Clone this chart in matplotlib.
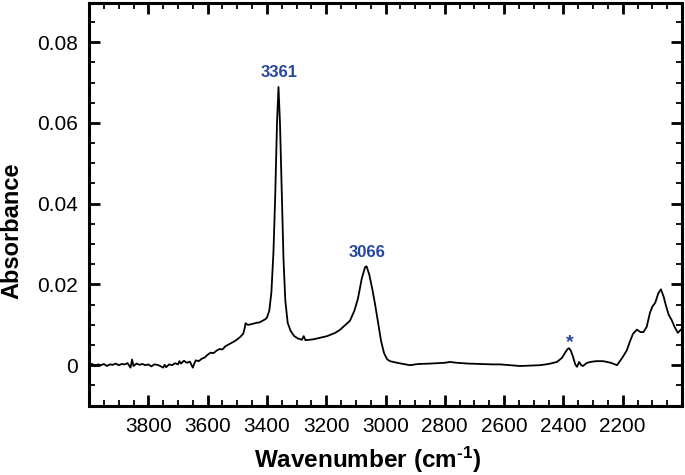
import matplotlib
matplotlib.use('Agg')
from matplotlib import pyplot as plt
from matplotlib.ticker import FixedLocator, MultipleLocator

plt.rcParams['font.family'] = ['Liberation Sans', 'DejaVu Sans']
plt.rcParams['mathtext.fontset'] = 'custom'
plt.rcParams['mathtext.rm'] = 'Liberation Sans:bold'
plt.rcParams['mathtext.default'] = 'rm'

# spectrum (wavenumber in cm-1, absorbance)
wavenumber = [4000, 3990, 3980, 3970, 3960, 3950, 3940, 3930, 3920, 3910,
              3900, 3890, 3880, 3870, 3860, 3855, 3850, 3840, 3830, 3820,
              3810, 3800, 3790, 3780, 3770, 3760, 3750, 3745, 3740, 3730,
              3720, 3710, 3700, 3695, 3690, 3680, 3670, 3660, 3650, 3645,
              3640, 3630, 3620, 3610, 3600, 3590, 3580, 3570, 3560, 3550,
              3540, 3530, 3520, 3510, 3500, 3490, 3480, 3475, 3472, 3465,
              3455, 3445, 3435, 3425, 3415, 3405, 3400, 3392, 3385, 3378,
              3372, 3366, 3361, 3356, 3350, 3344, 3338, 3330, 3320, 3308,
              3295, 3282, 3276, 3270, 3244, 3220, 3197, 3170, 3153, 3135,
              3120, 3105, 3093, 3080, 3069, 3064, 3055, 3045, 3035, 3025,
              3015, 3005, 2995, 2985, 2961, 2940, 2917, 2890, 2850, 2800,
              2782, 2760, 2720, 2680, 2640, 2614, 2580, 2546, 2510, 2479,
              2450, 2422, 2405, 2395, 2386, 2381, 2375, 2368, 2360, 2354,
              2347, 2340, 2334, 2322, 2310, 2290, 2266, 2240, 2219, 2200,
              2186, 2175, 2165, 2152, 2140, 2130, 2119, 2108, 2100, 2090,
              2080, 2071, 2062, 2055, 2045, 2035, 2025, 2014, 2004, 2000]
absorbance = [0.0002, 0.0003, -0.0001, 0.0002, 0.0000, 0.0003, -0.0002, 0.0002, 0.0001, 0.0004,
              0.0000, 0.0003, 0.0002, 0.0005, -0.0006, 0.0014, -0.0002, 0.0004, 0.0001, 0.0003,
              0.0000, 0.0002, -0.0003, 0.0002, 0.0001, -0.0002, -0.0006, 0.0001, -0.0005, 0.0002,
              0.0000, 0.0005, 0.0002, 0.0010, 0.0004, 0.0011, 0.0006, 0.0009, -0.0006, 0.0004,
              0.0012, 0.0010, 0.0016, 0.0019, 0.0026, 0.0031, 0.0030, 0.0036, 0.0040, 0.0039,
              0.0047, 0.0051, 0.0055, 0.0059, 0.0064, 0.0070, 0.0078, 0.0092, 0.0104, 0.0100,
              0.0101, 0.0103, 0.0105, 0.0106, 0.0110, 0.0114, 0.0118, 0.0135, 0.0180, 0.0280,
              0.0420, 0.0600, 0.0689, 0.0600, 0.0430, 0.0260, 0.0160, 0.0105, 0.0085, 0.0072,
              0.0066, 0.0063, 0.0072, 0.0062, 0.0064, 0.0068, 0.0072, 0.0080, 0.0088, 0.0100,
              0.0110, 0.0135, 0.0165, 0.0215, 0.0243, 0.0245, 0.0225, 0.0190, 0.0150, 0.0105,
              0.0060, 0.0030, 0.0015, 0.0010, 0.0006, 0.0003, 0.0000, 0.0003, 0.0004, 0.0006,
              0.0008, 0.0006, 0.0004, 0.0003, 0.0002, 0.0002, 0.0000, -0.0002, -0.0001, 0.0000,
              0.0003, 0.0008, 0.0018, 0.0030, 0.0040, 0.0042, 0.0036, 0.0022, 0.0002, -0.0004,
              0.0008, 0.0000, -0.0002, 0.0005, 0.0008, 0.0010, 0.0010, 0.0006, 0.0000, 0.0020,
              0.0037, 0.0060, 0.0078, 0.0088, 0.0082, 0.0082, 0.0095, 0.0130, 0.0145, 0.0155,
              0.0178, 0.0188, 0.0170, 0.0150, 0.0125, 0.0112, 0.0095, 0.0080, 0.0088, 0.0090]

peak_labels = ['3361', '3066', '*']
peak_pos = [3361, 3066, 2381]
peak_val = [0.0689, 0.0245, 0.0042]

xticks = [3800, 3600, 3400, 3200, 3000, 2800, 2600, 2400, 2200]
yticks = [0, 0.02, 0.04, 0.06, 0.08]
ytick_labels = ['0', '0.02', '0.04', '0.06', '0.08']

blue = '#2545a0'

fig = plt.figure(figsize=(6.85, 4.75), dpi=100)
ax = fig.add_axes([0.130, 0.1453, 0.8656, 0.8484])
ax.plot(wavenumber, absorbance, color='black', lw=1.3)

for lab, x, y in zip(peak_labels, peak_pos, peak_val):
    off = 14 if lab != '*' else 6
    ax.annotate(lab, xy=(x, y), xytext=(1, off), textcoords='offset pixels',
                ha='center', va='center', color=blue, fontweight='bold',
                fontsize=12 if lab != '*' else 14)

ax.set_xlim(4000, 2000)
ax.set_ylim(-0.0101, 0.0897)
ax.xaxis.set_major_locator(FixedLocator(xticks))
ax.xaxis.set_minor_locator(MultipleLocator(50))
ax.set_yticks(yticks)
ax.set_yticklabels(ytick_labels)
ax.yaxis.set_minor_locator(MultipleLocator(0.005))

ax.tick_params(which='both', direction='in', top=True, right=True)
ax.tick_params(which='major', length=8, width=2, labelsize=15, pad=8)
ax.tick_params(which='minor', length=4, width=1.3)
for sp in ax.spines.values():
    sp.set_linewidth(2.2)

ax.set_xlabel(r'Wavenumber (cm$^{\text{-}1}$)', fontsize=17.5, fontweight='bold')
ax.set_ylabel('Absorbance', fontsize=17, fontweight='bold')
ax.xaxis.set_label_coords(0.47, -0.097)
ax.yaxis.set_label_coords(-0.111, 0.434)
ax.xaxis.label.set_va('top')

plt.savefig('out.png', dpi=100)
